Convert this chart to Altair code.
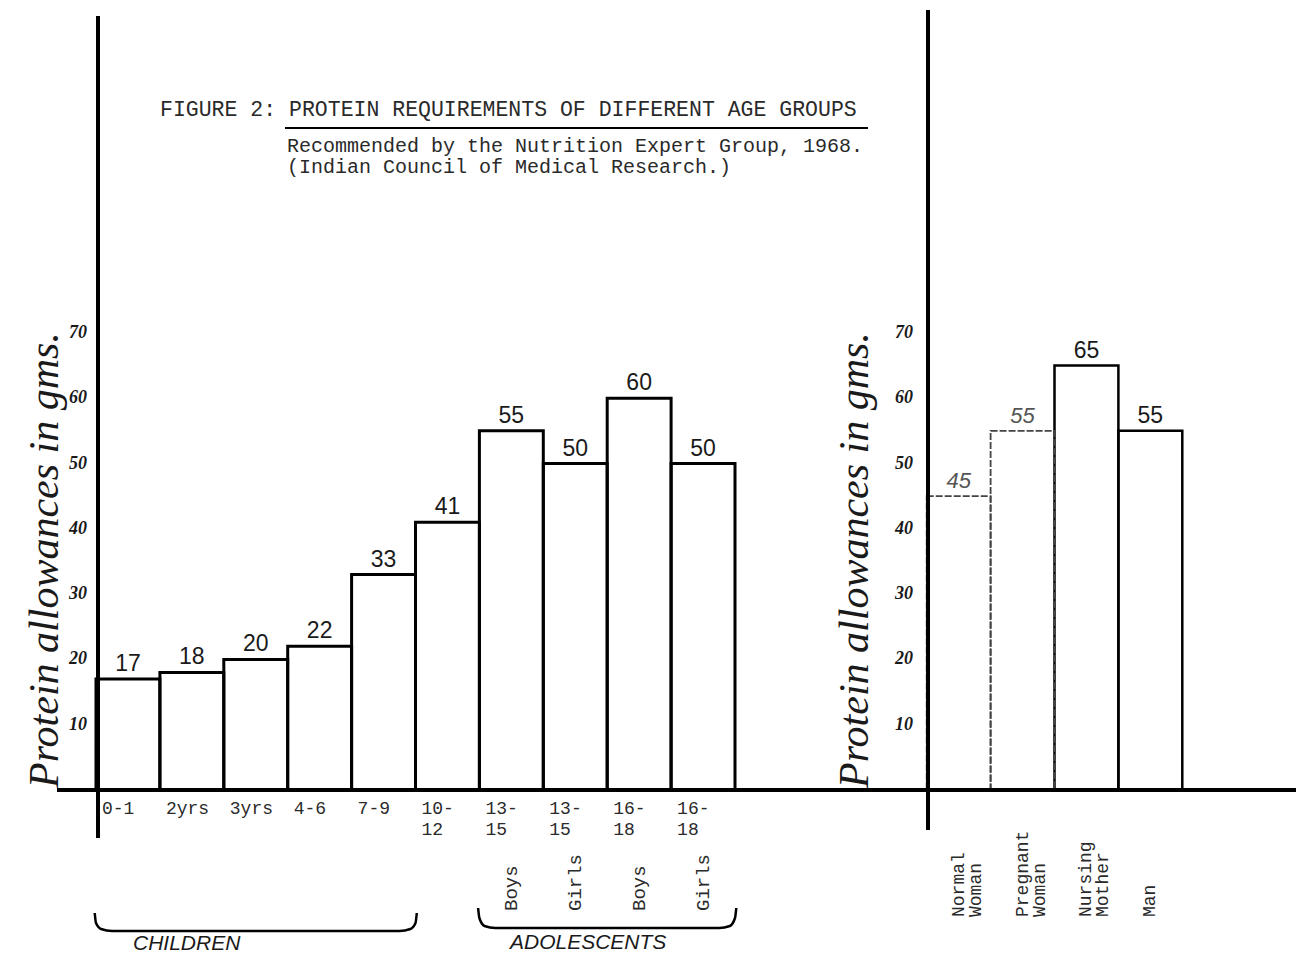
import altair as alt
import pandas as pd

# ---------------- data ----------------
left_labels = ["0-1", "2yrs", "3yrs", "4-6", "7-9", "10-\n12", "13-\n15", "13-\n15", "16-\n18", "16-\n18"]
left_values = [17, 18, 20, 22, 33, 41, 55, 50, 60, 50]
left_sex = ["", "", "", "", "", "", "Boys", "Girls", "Boys", "Girls"]
right_labels = ["Normal\nWoman", "Pregnant\nWoman", "Nursing\nMother", "Man"]
right_values = [45, 55, 65, 55]
right_faint = [True, True, False, False]
y_ticks = [10, 20, 30, 40, 50, 60, 70]
groups = ["CHILDREN", "ADOLESCENTS"]
group_first = [0, 6]
group_last = [4, 9]
right_start_slot = 13

title1 = "FIGURE 2: PROTEIN REQUIREMENTS OF DIFFERENT AGE GROUPS"
title2 = "Recommended by the Nutrition Expert Group, 1968."
title3 = "(Indian Council of Medical Research.)"
ytitle = "Protein allowances in gms."

# ---------------- layout ----------------
W, H = 1288, 948
SLOT = 63.9
X0 = 88.0          # plot-x of slot 0
Y0 = 782.0         # plot-y of value 0
PPU = 6.53         # pixels per gram

xs = alt.Scale(domain=[-X0 / SLOT, (W - X0) / SLOT], range=[0, W], nice=False, zero=False)
ys = alt.Scale(domain=[(Y0 - H) / PPU, Y0 / PPU], range=[H, 0], nice=False, zero=False)


def X(f):
    return alt.X(f, type="quantitative", scale=xs, axis=None)


def X2(f):
    return alt.X2(f)


def Y(f):
    return alt.Y(f, type="quantitative", scale=ys, axis=None)


def py2v(page_y):
    return (Y0 - (page_y - 8)) / PPU


left = pd.DataFrame({
    "label": left_labels,
    "value": left_values,
    "sex": left_sex,
    "x0": list(range(len(left_values))),
})
left["x1"] = left["x0"] + 1
left["xc"] = left["x0"] + 0.5
left["zero"] = 0

right = pd.DataFrame({
    "label": right_labels,
    "value": right_values,
    "faint": right_faint,
    "x0": [right_start_slot + i for i in range(len(right_values))],
})
right["x1"] = right["x0"] + 1
right["xc"] = right["x0"] + 0.5
right["zero"] = 0
right_solid = right[~right["faint"]]
right_light = right[right["faint"]]

ticks = pd.DataFrame({"t": y_ticks})

# braces
brace_rows = []
brace_tb = {"CHILDREN": (913, 931), "ADOLESCENTS": (908, 928)}
for g, a, b in zip(groups, group_first, group_last):
    x0, x1 = a, b + 1
    top, bot = brace_tb[g]
    pts = [(x0 - 0.02, top), (x0, top + 10), (x0 + 0.08, bot - 2), (x0 + 0.25, bot),
           (x1 - 0.25, bot), (x1 - 0.08, bot - 2), (x1, top + 10), (x1 + 0.02, top)]
    for i, (bx, by) in enumerate(pts):
        brace_rows.append({"group": g, "ord": i, "bx": bx, "by": py2v(by)})
braces = pd.DataFrame(brace_rows)

group_text = pd.DataFrame({"group": groups, "px": [133 - 8, 510 - 8], "py": [944 - 8, 943 - 8]})

mono = "Liberation Mono"
hand = "Liberation Sans"
ink = "#1a1a1a"
typed = "#2a2a2a"

layers = []

# bars
layers.append(alt.Chart(left).mark_rect(fill="white", fillOpacity=0, stroke="black", strokeWidth=3).encode(
    x=X("x0"), x2=X2("x1"), y=Y("zero"), y2=alt.Y2("value")))
layers.append(alt.Chart(right_solid).mark_rect(fill="white", fillOpacity=0, stroke="black", strokeWidth=2.5).encode(
    x=X("x0"), x2=X2("x1"), y=Y("zero"), y2=alt.Y2("value")))
layers.append(alt.Chart(right_light).mark_rect(fill="white", fillOpacity=0, stroke="#444", strokeWidth=1.8,
                                              strokeDash=[7, 2]).encode(
    x=X("x0"), x2=X2("x1"), y=Y("zero"), y2=alt.Y2("value")))

# axis lines
layers.append(alt.Chart(ticks).mark_rule(stroke="black", strokeWidth=3.5).encode(
    x=alt.value(49), x2=alt.value(W), y=alt.value(Y0)))
layers.append(alt.Chart(ticks).mark_rule(stroke="black", strokeWidth=3.5).encode(
    x=alt.value(90), y=alt.value(8), y2=alt.value(830)))
layers.append(alt.Chart(ticks).mark_rule(stroke="black", strokeWidth=3).encode(
    x=alt.value(920), y=alt.value(2), y2=alt.value(822)))

# value labels
layers.append(alt.Chart(left).mark_text(font=hand, fontSize=23, color=ink, baseline="bottom", dy=-3).encode(
    x=X("xc"), y=Y("value"), text="value:Q"))
layers.append(alt.Chart(right_solid).mark_text(font=hand, fontSize=23, color=ink, baseline="bottom", dy=-3).encode(
    x=X("xc"), y=Y("value"), text="value:Q"))
layers.append(alt.Chart(right_light).mark_text(font=hand, fontSize=22, fontStyle="italic", color="#555",
                                               baseline="bottom", dy=-3).encode(
    x=X("xc"), y=Y("value"), text="value:Q"))

# x category labels (typed)
layers.append(alt.Chart(left).mark_text(font=mono, fontSize=18, color=typed, align="left", baseline="top",
                                        lineBreak="\n", lineHeight=21, dx=6, dy=10).encode(
    x=X("x0"), y=Y("zero"), text="label:N"))
layers.append(alt.Chart(left[left["sex"] != ""]).mark_text(font=mono, fontSize=19, color=typed, align="left",
                                                           baseline="middle", angle=270).encode(
    x=X("xc"), y=alt.value(911 - 8), text="sex:N"))
layers.append(alt.Chart(right).mark_text(font=mono, fontSize=18, color=typed, align="left", baseline="middle",
                                         angle=270, lineBreak="\n", lineHeight=17).encode(
    x=X("xc"), y=alt.value(917 - 8), text="label:N"))

# y tick labels (both panels)
for px in (78 - 8, 904 - 8):
    layers.append(alt.Chart(ticks).mark_text(font="Liberation Serif", fontSize=18, fontStyle="italic",
                                             fontWeight="bold", color=ink, align="center",
                                             baseline="middle").encode(
        x=alt.value(px), y=Y("t"), text="t:Q"))

# y titles
yt = pd.DataFrame({"t": [ytitle]})
for px, pyc in ((45 - 8, 560 - 8), (855 - 8, 560 - 8)):
    layers.append(alt.Chart(yt).mark_text(font="Liberation Serif", fontSize=42, fontStyle="italic",
                                          color=ink, align="center", baseline="middle", angle=270).encode(
        x=alt.value(px), y=alt.value(pyc), text="t:N"))

# braces and group names
layers.append(alt.Chart(braces).mark_line(stroke="black", strokeWidth=2.5, interpolate="monotone").encode(
    x=X("bx"), y=Y("by"), detail="group:N", order="ord:Q"))
layers.append(alt.Chart(group_text).mark_text(font=hand, fontSize=21, fontStyle="italic", color=ink,
                                              align="left", baseline="middle").encode(
    x=alt.X("px:Q", scale=None, axis=None), y=alt.Y("py:Q", scale=None, axis=None), text="group:N"))

# titles
tt = pd.DataFrame({"t": [title1, title2, title3],
                   "px": [160 - 8, 287 - 8, 287 - 8],
                   "py": [110 - 8, 146 - 8, 167 - 8],
                   "fs": [21.5, 20, 20]})
layers.append(alt.Chart(tt).mark_text(font=mono, color=typed, align="left", baseline="middle").encode(
    x=alt.X("px:Q", scale=None, axis=None), y=alt.Y("py:Q", scale=None, axis=None), text="t:N",
    size=alt.Size("fs:Q", scale=None, legend=None)))
layers.append(alt.Chart(ticks).mark_rule(stroke="black", strokeWidth=1.8).encode(
    x=alt.value(285 - 8), x2=alt.value(868 - 8), y=alt.value(128 - 8)))

chart = alt.layer(*layers).resolve_scale(x="shared", y="shared").properties(
    width=W, height=H, padding=0, autosize=alt.AutoSizeParams(type="none"),
).configure_view(strokeWidth=0, stroke="transparent")

chart.save("out.html", embed_options={"renderer": "svg", "actions": False})
